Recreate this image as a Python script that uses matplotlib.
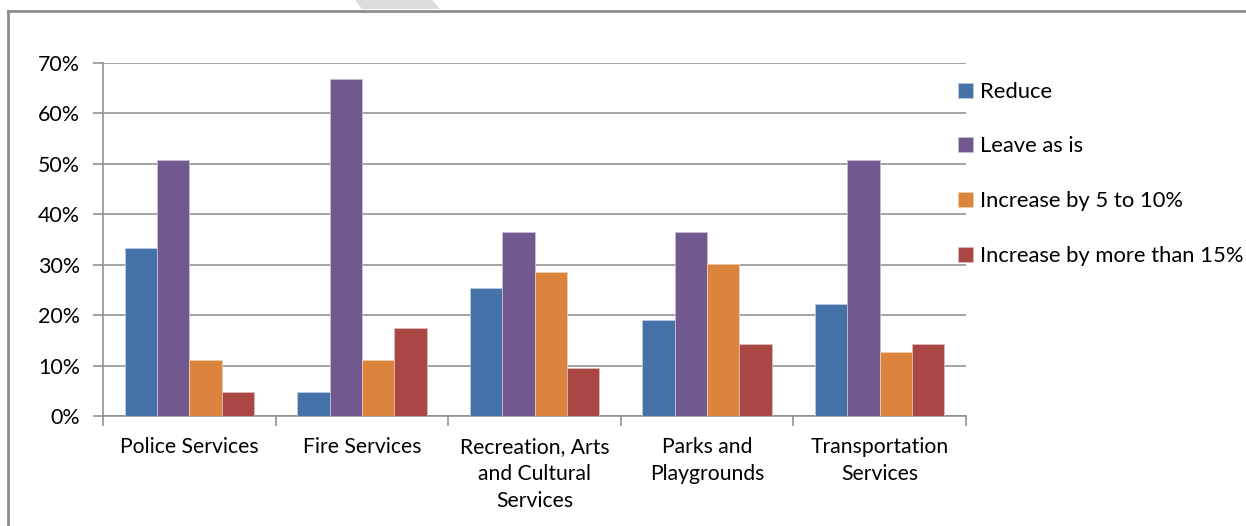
import matplotlib
matplotlib.use("Agg")
import matplotlib.pyplot as plt
import numpy as np
from matplotlib.lines import Line2D
from matplotlib.patches import Polygon
from matplotlib.ticker import MultipleLocator, FuncFormatter, FixedLocator

plt.rcParams['font.family'] = ['Lato', 'DejaVu Sans']

categories = ["Police Services", "Fire Services", "Recreation, Arts\nand Cultural\nServices",
              "Parks and\nPlaygrounds", "Transportation\nServices"]
series_names = ["Reduce", "Leave as is", "Increase by 5 to 10%", "Increase by more than 15%"]
reduce_vals = [33.3, 4.8, 25.4, 19.0, 22.2]
leave_vals = [50.8, 66.7, 36.5, 36.5, 50.8]
inc_5_10_vals = [11.1, 11.1, 28.6, 30.2, 12.7]
inc_15_vals = [4.8, 17.5, 9.5, 14.3, 14.3]
series_values = [reduce_vals, leave_vals, inc_5_10_vals, inc_15_vals]
colors = ["#4572A7", "#71588F", "#DB843D", "#AA4643"]
edge_colors = ["#b9c9e0", "#c7bcd6", "#f0cdb0", "#ddb9b8"]

W, H = 1246, 526
fig = plt.figure(figsize=(W / 100, H / 100), dpi=100)

# Outer frame (left and top edges visible)
frame_col = "#8c8c8c"
fig.add_artist(Line2D([8 / W, 8 / W], [0, 1 - 11 / H], transform=fig.transFigure,
                      color=frame_col, lw=2))
fig.add_artist(Line2D([8 / W, 1], [1 - 11 / H, 1 - 11 / H], transform=fig.transFigure,
                      color=frame_col, lw=2))
# Light watermark fragment above the frame
fig.add_artist(Polygon([[355 / W, 1], [432 / W, 1], [440 / W, 1 - 9 / H],
                        [362 / W, 1 - 9 / H]], closed=True, transform=fig.transFigure,
                       facecolor="#dcdcdc", edgecolor="none"))

ax = fig.add_axes([103 / W, 1 - 416 / H, (966 - 103) / W, (416 - 62.7) / H])

n = len(categories)
x = np.arange(n)
bw = 0.1875
offsets = (np.arange(4) - 1.5) * bw
for vals, off, c, ec, name in zip(series_values, offsets, colors, edge_colors, series_names):
    ax.bar(x + off, vals, width=bw, color=c, edgecolor=ec, linewidth=0.6, label=name, zorder=3)

ax.set_xlim(-0.5, n - 0.5)
ax.set_ylim(0, 70)
ax.yaxis.set_major_locator(MultipleLocator(10))
ax.yaxis.set_major_formatter(FuncFormatter(lambda v, p: f"{int(v)}%"))
ax.grid(axis='y', color="#8a8a8a", lw=1.1, zorder=0)

fs = 15.2
ax.xaxis.set_major_locator(FixedLocator(np.arange(n + 1) - 0.5))
ax.xaxis.set_minor_locator(FixedLocator(x))
ax.set_xticklabels([""] * (n + 1))
ax.set_xticklabels(categories, minor=True)
ax.tick_params(axis='x', which='major', length=7, color="#8a8a8a", width=1.1)
ax.tick_params(axis='x', which='minor', length=0, pad=15, labelsize=fs, labelcolor="#000000")
ax.tick_params(axis='y', length=7, color="#8a8a8a", width=1.1, pad=9.5, labelsize=15.4,
               labelcolor="#000000")
for lab in ax.get_xticklabels(minor=True):
    lab.set_linespacing(1.45)

for side in ["top", "right"]:
    ax.spines[side].set_visible(False)
for side in ["left", "bottom"]:
    ax.spines[side].set_color("#8a8a8a")
    ax.spines[side].set_linewidth(1.1)

leg = fig.legend(loc="upper left", bbox_to_anchor=(949 / W, 1 - 73 / H), frameon=False,
                 fontsize=fs + 0.6, handlelength=0.68, handleheight=0.68, handletextpad=0.35,
                 labelspacing=1.58, borderaxespad=0)

fig.savefig("out.png", dpi=100, facecolor="white")
